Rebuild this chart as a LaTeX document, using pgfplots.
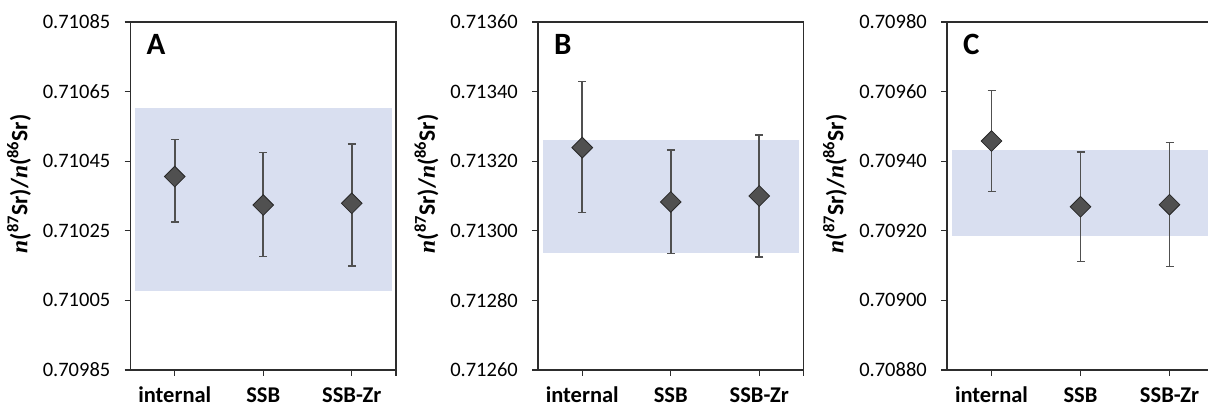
\documentclass[border=0pt]{standalone}
\usepackage{fontspec}
\setmainfont{Carlito}
\newfontfamily\tnr{Liberation Serif}
\usepackage{pgfplots}
\pgfplotsset{compat=1.18}
\definecolor{band}{RGB}{217,223,240}
\definecolor{mk}{RGB}{80,80,80}
\definecolor{mkedge}{RGB}{40,40,40}
\definecolor{eb}{RGB}{80,80,80}
\definecolor{ax}{RGB}{45,45,45}
\newcommand{\ylab}{\bfseries{\tnr\bfseries\itshape n}(\textsuperscript{87}Sr)/{\tnr\bfseries\itshape n}(\textsuperscript{86}Sr)}
\pgfplotsset{panel/.style={
  scale only axis, width=265.5pt, height=348pt, anchor=south west,
  xmin=0.5, xmax=3.5, xtick={1,2,3}, xticklabels={internal,SSB,SSB-Zr},
  extra x ticks={3.5}, extra x tick labels={},
  tick align=outside, major tick length=6pt,
  xtick pos=left, ytick pos=left,
  axis line style={ax, line width=1.3pt},
  every tick/.style={ax, line width=1.1pt},
  /pgf/number format/assume math mode=true,
  yticklabel style={font=\fontsize{20.5}{24}\selectfont, color=black, inner sep=0pt, xshift=-14pt},
  xticklabel style={font=\fontsize{22.5}{26}\selectfont\bfseries, inner sep=0pt, text height=15pt, text depth=0pt, yshift=-11pt},
  ylabel={\ylab},
  every axis y label/.style={at={(axis description cs:-0.42,0.535)}, rotate=90, anchor=center, font=\fontsize{23.5}{28}\selectfont},
  clip=false,
  pts/.style={only marks, mark=square*, mark size=7.3pt,
    mark options={rotate=45, fill=mk, draw=mkedge, line width=0.8pt},
    error bars/.cd, y dir=both, y explicit,
    error bar style={eb, line width=1.6pt},
    error mark options={rotate=90, mark size=4pt, line width=1.6pt, eb}},
}}
\newcommand{\letter}[1]{\node[anchor=base west, inner sep=0pt, font=\fontsize{31}{36}\selectfont\bfseries] at ([xshift=16pt,yshift=-33pt]rel axis cs:0,1) {#1};}
\begin{document}
\begin{tikzpicture}
% Panel A
\begin{axis}[panel, at={(130.5pt,40pt)},
  ymin=0.70985, ymax=0.71085,
  ytick={0.70985,0.71005,0.71025,0.71045,0.71065,0.71085},
  yticklabels={0.70985,0.71005,0.71025,0.71045,0.71065,0.71085}]
\addplot[fill=band, draw=none] coordinates {(0.555,0.710076) (3.46,0.710076) (3.46,0.710603) (0.555,0.710603)} -- cycle;
\addplot[pts] coordinates {
  (1,0.710406) += (0,0.000106) -= (0,0.000130)
  (2,0.710324) += (0,0.000151) -= (0,0.000148)
  (3,0.710329) += (0,0.000171) -= (0,0.000180)
};
\letter{A}
\end{axis}
% Panel B
\begin{axis}[panel, at={(538pt,40pt)},
  ymin=0.71260, ymax=0.71360,
  ytick={0.71260,0.71280,0.71300,0.71320,0.71340,0.71360},
  yticklabels={0.71260,0.71280,0.71300,0.71320,0.71340,0.71360}]
\addplot[fill=band, draw=none] coordinates {(0.56,0.712936) (3.45,0.712936) (3.45,0.713260) (0.56,0.713260)} -- cycle;
\addplot[pts] coordinates {
  (1,0.713239) += (0,0.000190) -= (0,0.000186)
  (2,0.713083) += (0,0.000150) -= (0,0.000148)
  (3,0.713100) += (0,0.000176) -= (0,0.000176)
};
\letter{B}
\end{axis}
% Panel C
\begin{axis}[panel, at={(947pt,40pt)}, width=267pt,
  ymin=0.70880, ymax=0.70980,
  ytick={0.70880,0.70900,0.70920,0.70940,0.70960,0.70980},
  yticklabels={0.70880,0.70900,0.70920,0.70940,0.70960,0.70980}]
\addplot[fill=band, draw=none] coordinates {(0.56,0.709184) (3.45,0.709184) (3.45,0.709432) (0.56,0.709432)} -- cycle;
\addplot[pts] coordinates {
  (1,0.709458) += (0,0.000145) -= (0,0.000145)
  (2,0.709269) += (0,0.000158) -= (0,0.000157)
  (3,0.709275) += (0,0.000179) -= (0,0.000178)
};
\letter{C}
\end{axis}
\pgfresetboundingbox
\path[use as bounding box] (0,0) rectangle (1208pt,410pt);
\end{tikzpicture}
\end{document}
